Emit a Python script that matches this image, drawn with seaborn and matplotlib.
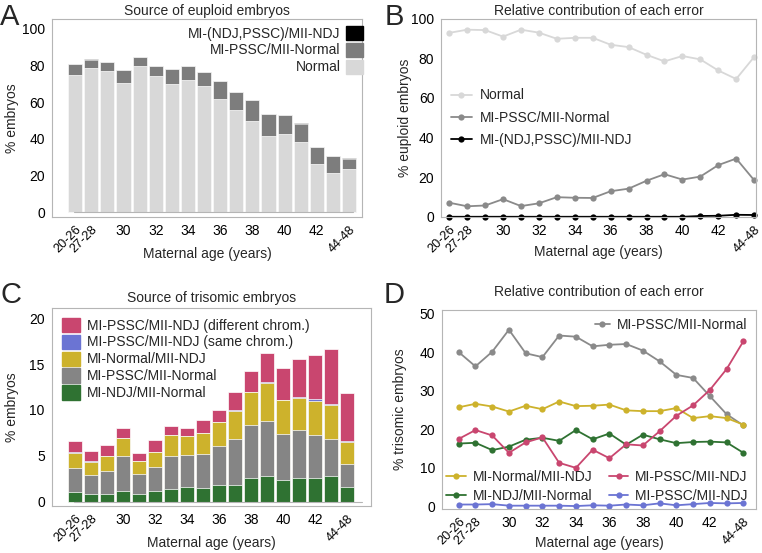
import numpy as np
import matplotlib
matplotlib.use("Agg")
import matplotlib.pyplot as plt
import seaborn as sns
from matplotlib.patches import Patch

# ====================== DATA ======================

ages = ["20-26", "27-28", "29", "30", "31", "32", "33", "34", "35",
        "36", "37", "38", "39", "40", "41", "42", "43", "44-48"]
shown_ticks = ["20-26", "27-28", "30", "32", "34", "36", "38", "40", "42", "44-48"]

# A - euploid embryos (% of all embryos)
eu_normal = [74.9, 78.9, 77.1, 70.7, 80.0, 74.2, 70.2, 72.2, 69.1,
             62.0, 55.8, 50.0, 41.8, 42.7, 38.2, 26.2, 21.3, 23.6]
eu_pssc   = [5.9, 4.4, 4.9, 6.9, 4.7, 5.6, 8.2, 7.6, 7.2,
             9.6, 9.7, 11.1, 11.8, 10.4, 10.0, 9.3, 9.2, 5.6]
eu_ndj    = [0.1, 0.3, 0.2, 0.0, 0.2, 0.0, 0.0, 0.0, 0.2,
             0.0, 0.0, 0.2, 0.0, 0.0, 0.3, 0.3, 0.4, 0.3]

# B - relative contribution (% of euploid embryos)
rel_normal = [92.9, 94.5, 94.3, 91.0, 94.5, 93.0, 89.9, 90.4, 90.4,
              86.9, 85.7, 81.8, 78.5, 81.2, 79.5, 73.9, 69.6, 80.7]
rel_pssc   = [7.1, 5.3, 5.7, 8.9, 5.4, 6.8, 9.9, 9.6, 9.5,
              12.9, 14.2, 18.2, 21.5, 18.8, 20.3, 26.1, 29.4, 18.5]
rel_ndj    = [0.0, 0.0, 0.0, 0.0, 0.0, 0.0, 0.0, 0.0, 0.0,
              0.0, 0.0, 0.0, 0.0, 0.0, 0.4, 0.5, 1.0, 0.9]

# C - trisomic embryos (% of all embryos)
tri_ndj_norm  = [1.05, 0.87, 0.87, 1.16, 0.87, 1.16, 1.35, 1.56, 1.50,
                 1.82, 1.85, 2.62, 2.76, 2.36, 2.55, 2.62, 2.76, 1.64]
tri_pssc_norm = [2.65, 2.03, 2.51, 3.79, 2.13, 2.62, 3.65, 3.54, 3.66,
                 4.22, 5.02, 5.74, 6.04, 4.99, 5.23, 4.62, 4.11, 2.43]
tri_norm_ndj  = [1.65, 1.46, 1.57, 1.95, 1.44, 1.67, 2.24, 2.06, 2.34,
                 2.66, 3.03, 3.57, 4.10, 3.70, 3.57, 3.76, 3.68, 2.48]
tri_same      = [0.03, 0.03, 0.03, 0.02, 0.01, 0.01, 0.02, 0.01, 0.03,
                 0.02, 0.06, 0.04, 0.13, 0.04, 0.10, 0.14, 0.13, 0.10]
tri_diff      = [1.22, 1.17, 1.17, 1.08, 0.90, 1.27, 0.99, 0.90, 1.34,
                 1.28, 1.94, 2.28, 3.17, 3.51, 4.05, 4.82, 5.92, 5.15]

# D - relative contribution (% of trisomic embryos)
d_pssc_norm = [40.0, 36.3, 40.1, 45.8, 39.7, 38.7, 44.3, 44.0, 41.5,
               41.9, 42.1, 40.4, 37.6, 34.1, 33.3, 28.6, 23.9, 21.0]
d_norm_ndj  = [25.7, 26.6, 25.9, 24.6, 26.1, 25.2, 27.2, 26.0, 26.1,
               26.4, 24.9, 24.7, 24.7, 25.5, 22.9, 23.4, 22.9, 21.2]
d_diff      = [17.5, 19.8, 18.4, 13.9, 16.6, 17.9, 11.3, 10.0, 14.7,
               12.5, 16.1, 15.8, 19.5, 23.5, 26.2, 30.2, 35.6, 42.8]
d_ndj_norm  = [16.3, 16.5, 14.6, 15.5, 17.3, 17.8, 17.0, 19.8, 17.4,
               18.9, 16.0, 18.6, 17.4, 16.4, 16.7, 16.8, 16.6, 13.9]
d_same      = [0.5, 0.5, 0.6, 0.2, 0.2, 0.2, 0.2, 0.1, 0.3,
               0.2, 0.5, 0.3, 0.8, 0.3, 0.6, 0.9, 0.8, 0.9]

# ====================== STYLE ======================

sns.set_style("white")
plt.rcParams['font.family'] = ['Liberation Sans', 'DejaVu Sans']
plt.rcParams['font.size'] = 8.5

C_LIGHT  = '#d8d8d8'
C_GRAY   = '#7d7d7d'
C_BLACK  = '#000000'
C_PINK   = '#c9466f'
C_BLUE   = '#6b74d3'
C_YELLOW = '#cdb22c'
C_GREEN  = '#2f7232'
SPINE    = '#b5b5b5'

xpos = np.arange(len(ages))


def style_axes(ax, ylabel, xlab_y, ylab_x):
    for s in ax.spines.values():
        s.set_color(SPINE)
        s.set_linewidth(0.8)
    ax.tick_params(axis='both', colors=SPINE, labelcolor='black',
                   length=3, width=0.6, labelsize=10, pad=2)
    ax.set_xticks(xpos)
    ax.set_xticklabels([a if a in shown_ticks else "" for a in ages])
    # age ranges are drawn slanted, single years stay flat
    for lab in ax.get_xticklabels():
        if "-" in lab.get_text():
            lab.set_rotation(45)
            lab.set_fontsize(9.2)
            lab.set_ha('right')
            lab.set_va('top')
            lab.set_rotation_mode('anchor')
    ax.set_xlabel("Maternal age (years)", fontsize=10)
    ax.set_ylabel(ylabel, fontsize=10)
    ax.xaxis.set_label_coords(0.5, xlab_y)
    ax.yaxis.set_label_coords(ylab_x, 0.5)


def stacked(ax, layers, colors):
    tops = np.cumsum(np.array(layers), axis=0)
    for top, c in reversed(list(zip(tops, colors))):
        sns.barplot(x=ages, y=top, order=ages, color=c, saturation=1,
                    width=0.88, edgecolor='white', linewidth=0.5, ax=ax)


fig = plt.figure(figsize=(7.62, 5.53), dpi=100)
axA = fig.add_axes([0.068, 0.608, 0.407, 0.358])
axB = fig.add_axes([0.579, 0.608, 0.413, 0.358])
axC = fig.add_axes([0.068, 0.085, 0.419, 0.358])
axD = fig.add_axes([0.580, 0.080, 0.412, 0.360])

# ---- A ----
stacked(axA, [eu_normal, eu_pssc, eu_ndj], [C_LIGHT, C_GRAY, C_BLACK])
axA.axhline(0, xmin=0.07, xmax=0.97, color=SPINE, lw=0.8)
axA.set_xlim(-1.45, 17.8)
axA.set_ylim(-2.4, 105.5)
axA.set_yticks([0, 20, 40, 60, 80, 100])
style_axes(axA, "% embryos", -0.155, -0.105)
axA.set_title("Source of euploid embryos", fontsize=10, pad=3)
axA.legend(handles=[Patch(color=C_BLACK, label="MI-(NDJ,PSSC)/MII-NDJ"),
                    Patch(color=C_GRAY, label="MI-PSSC/MII-Normal"),
                    Patch(color=C_LIGHT, label="Normal")],
           loc='upper right', bbox_to_anchor=(1.025, 1.0), frameon=False,
           markerfirst=False, fontsize=10,
           handlelength=1.2, handleheight=1.2, handletextpad=0.4,
           labelspacing=0.15, borderaxespad=0.1)

# ---- B ----
for vals, c, lab in [(rel_normal, C_LIGHT, "Normal"),
                     (rel_pssc, '#8a8a8a', "MI-PSSC/MII-Normal"),
                     (rel_ndj, C_BLACK, "MI-(NDJ,PSSC)/MII-NDJ")]:
    sns.lineplot(x=xpos, y=vals, color=c, marker='o', markersize=4.5,
                 markeredgewidth=0, linewidth=1.3, label=lab, ax=axB,
                 clip_on=False)
axB.set_xlim(-0.45, 17.1)
axB.set_ylim(0, 100)
axB.set_yticks([0, 20, 40, 60, 80, 100])
style_axes(axB, "% euploid embryos", -0.145, -0.092)
axB.set_title("Relative contribution of each error", fontsize=10, pad=3)
axB.legend(loc='center left', bbox_to_anchor=(0.0, 0.5), frameon=False,
           fontsize=10, handlelength=1.5, handletextpad=0.6, labelspacing=0.6,
           borderaxespad=0.3)

# ---- C ----
stacked(axC, [tri_ndj_norm, tri_pssc_norm, tri_norm_ndj, tri_same, tri_diff],
        [C_GREEN, '#858585', C_YELLOW, C_BLUE, C_PINK])
axC.axhline(0, xmin=0.07, xmax=0.97, color=SPINE, lw=0.8)
axC.set_xlim(-1.44, 18.5)
axC.set_ylim(-0.47, 21.1)
axC.set_yticks([0, 5, 10, 15, 20])
style_axes(axC, "% embryos", -0.15, -0.103)
axC.set_title("Source of trisomic embryos", fontsize=10, pad=4)
axC.legend(handles=[Patch(color=C_PINK, label="MI-PSSC/MII-NDJ (different chrom.)"),
                    Patch(color=C_BLUE, label="MI-PSSC/MII-NDJ (same chrom.)"),
                    Patch(color=C_YELLOW, label="MI-Normal/MII-NDJ"),
                    Patch(color='#858585', label="MI-PSSC/MII-Normal"),
                    Patch(color=C_GREEN, label="MI-NDJ/MII-Normal")],
           loc='upper left', frameon=False, fontsize=10,
           handlelength=1.3, handleheight=1.2, handletextpad=0.5,
           labelspacing=0.15, borderaxespad=0.3)

# ---- D ----
d_series = [(d_pssc_norm, '#8a8a8a', "MI-PSSC/MII-Normal"),
            (d_norm_ndj, C_YELLOW, "MI-Normal/MII-NDJ"),
            (d_ndj_norm, C_GREEN, "MI-NDJ/MII-Normal"),
            (d_diff, C_PINK, "MI-PSSC/MII-NDJ"),
            (d_same, C_BLUE, "MI-PSSC/MII-NDJ ")]
for vals, c, lab in d_series:
    sns.lineplot(x=xpos, y=vals, color=c, marker='o', markersize=4.5,
                 markeredgewidth=0, linewidth=1.3, label=lab, ax=axD)
axD.set_xlim(-1.0, 17.75)
axD.set_ylim(-0.6, 51)
axD.set_yticks([0, 10, 20, 30, 40, 50])
style_axes(axD, "% trisomic embryos", -0.135, -0.111)
axD.set_title("Relative contribution of each error", fontsize=10, pad=10)
h, l = axD.get_legend_handles_labels()
top_leg = axD.legend([h[0]], [l[0]], loc='upper right', frameon=False,
                     fontsize=10, handlelength=1.1, handletextpad=0.5,
                     borderaxespad=0.2)
axD.add_artist(top_leg)
axD.legend([h[1], h[2], h[3], h[4]], [l[1], l[2], l[3], l[4]], ncol=2,
           loc='lower center', bbox_to_anchor=(0.5, 0.0), frameon=False,
           fontsize=10, handlelength=1.4, handletextpad=0.5,
           columnspacing=1.2, labelspacing=0.3, borderaxespad=0.05)

# panel letters
for x, y, s in [(0.0, 0.995, "A"), (0.505, 0.995, "B"),
                (0.0, 0.492, "C"), (0.503, 0.492, "D")]:
    fig.text(x, y, s, fontsize=21, ha='left', va='top')

fig.savefig("out.png", dpi=100)
